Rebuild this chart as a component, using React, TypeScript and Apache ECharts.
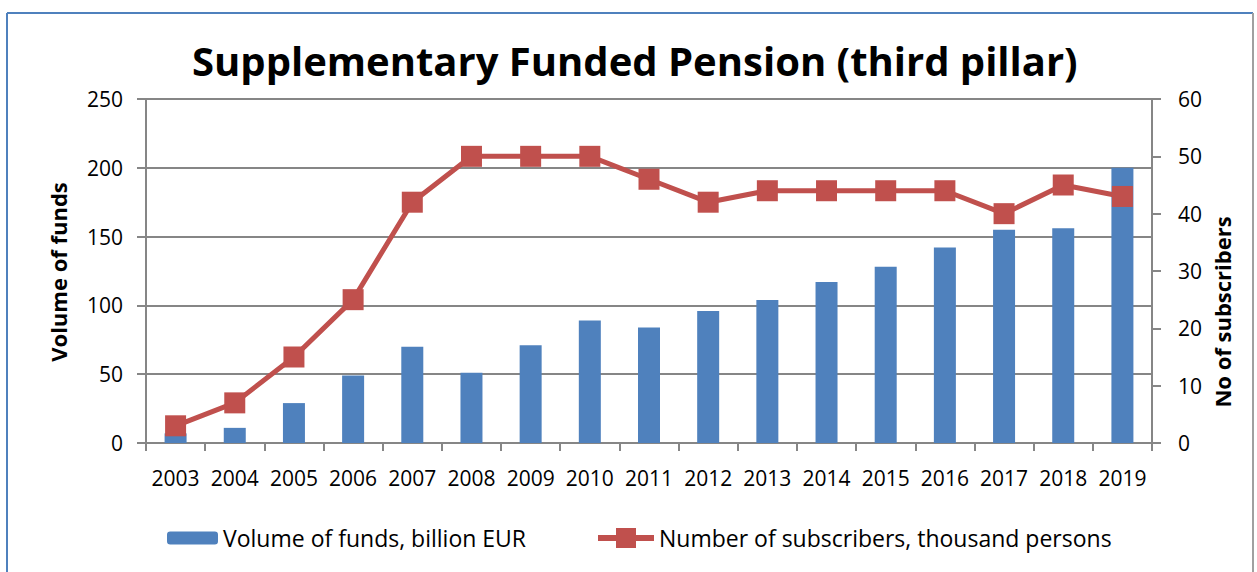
import React, { useEffect, useRef } from "react";
import * as echarts from "echarts";

const years = ["2003","2004","2005","2006","2007","2008","2009","2010","2011","2012","2013","2014","2015","2016","2017","2018","2019"];
const volumeOfFunds = [7, 11, 29, 49, 70, 51, 71, 89, 84, 96, 104, 117, 128, 142, 155, 156, 200];
const subscribers = [3, 7, 15, 25, 42, 50, 50, 50, 46, 42, 44, 44, 44, 44, 40, 45, 43];
const leftTicks = { min: 0, max: 250, interval: 50 };
const rightTicks = { min: 0, max: 60, interval: 10 };
const seriesNames = ["Volume of funds, billion EUR", "Number of subscribers, thousand persons"];

const FONT = "'Open Sans', Lato, sans-serif";
const GRID = "#868686";

export default function App() {
  const ref = useRef<HTMLDivElement>(null);
  useEffect(() => {
    if (!ref.current) return;
    const chart = echarts.init(ref.current, undefined, { renderer: "svg" });
    const legendText = { fontFamily: FONT, fontSize: 23, lineHeight: 24, color: "#000" };
    chart.setOption({
      animation: false,
      backgroundColor: "#ffffff",
      title: {
        text: "Supplementary Funded Pension (third pillar)",
        left: 187,
        top: 35,
        textStyle: { fontFamily: FONT, fontSize: 40, fontWeight: "bold", color: "#000" },
      },
      grid: { left: 146, right: 105, top: 99, bottom: 129 },
      legend: [
        {
          top: 526,
          left: 167,
          padding: 0,
          itemWidth: 51,
          itemHeight: 13,
          textStyle: legendText,
          data: [seriesNames[0]],
        },
        {
          top: 526,
          left: 595,
          padding: 0,
          itemWidth: 56,
          itemHeight: 25,
          textStyle: legendText,
          data: [{ name: seriesNames[1], lineStyle: { width: 6 } }],
        },
      ],
      xAxis: {
        type: "category",
        data: years,
        boundaryGap: true,
        axisLine: { show: true, lineStyle: { color: GRID, width: 2 } },
        axisTick: { show: true, alignWithLabel: false, length: 8, lineStyle: { color: GRID, width: 2 } },
        axisLabel: { interval: 0, margin: 24, lineHeight: 22, fontFamily: FONT, fontSize: 21, color: "#000" },
      },
      yAxis: [
        {
          type: "value",
          min: leftTicks.min,
          max: leftTicks.max,
          interval: leftTicks.interval,
          axisLine: { show: true, lineStyle: { color: GRID, width: 2 } },
          axisTick: { show: true, length: 9, lineStyle: { color: GRID, width: 2 } },
          splitLine: { show: true, lineStyle: { color: GRID, width: 2 } },
          axisLabel: { margin: 23, fontFamily: FONT, fontSize: 21, color: "#000" },
        },
        {
          type: "value",
          min: rightTicks.min,
          max: rightTicks.max,
          interval: rightTicks.interval,
          position: "right",
          axisLine: { show: true, lineStyle: { color: GRID, width: 2 } },
          axisTick: { show: true, length: 9, lineStyle: { color: GRID, width: 2 } },
          splitLine: { show: false },
          axisLabel: { margin: 26, fontFamily: FONT, fontSize: 21, color: "#000" },
        },
      ],
      series: [
        {
          name: seriesNames[0],
          type: "bar",
          data: volumeOfFunds,
          yAxisIndex: 0,
          barWidth: 22,
          itemStyle: { color: "#4F81BD" },
        },
        {
          name: seriesNames[1],
          type: "line",
          data: subscribers,
          yAxisIndex: 1,
          symbol: "rect",
          symbolSize: 21,
          lineStyle: { color: "#C0504D", width: 5 },
          itemStyle: { color: "#C0504D" },
        },
      ],
      graphic: [
        { type: "line", shape: { x1: 7, y1: 13, x2: 7, y2: 580 }, style: { stroke: "#4F81BD", lineWidth: 2 } },
        { type: "line", shape: { x1: 7, y1: 13, x2: 1253, y2: 13 }, style: { stroke: "#4F81BD", lineWidth: 2 } },
        { type: "line", shape: { x1: 1253, y1: 13, x2: 1253, y2: 580 }, style: { stroke: "#A0A0A0", lineWidth: 2 } },
        {
          type: "text",
          x: 58,
          y: 272,
          rotation: Math.PI / 2,
          style: {
            text: "Volume of funds",
            fontFamily: FONT,
            fontSize: 22,
            fontWeight: "bold",
            fill: "#000",
            align: "center",
            verticalAlign: "middle",
          },
        },
        {
          type: "text",
          x: 1222,
          y: 312,
          rotation: Math.PI / 2,
          style: {
            text: "No of subscribers",
            fontFamily: FONT,
            fontSize: 22,
            fontWeight: "bold",
            fill: "#000",
            align: "center",
            verticalAlign: "middle",
          },
        },
      ],
    });
    return () => chart.dispose();
  }, []);
  return (
    <div
      ref={ref}
      style={{ position: "absolute", left: 0, top: 0, width: 1257, height: 572 }}
    />
  );
}
